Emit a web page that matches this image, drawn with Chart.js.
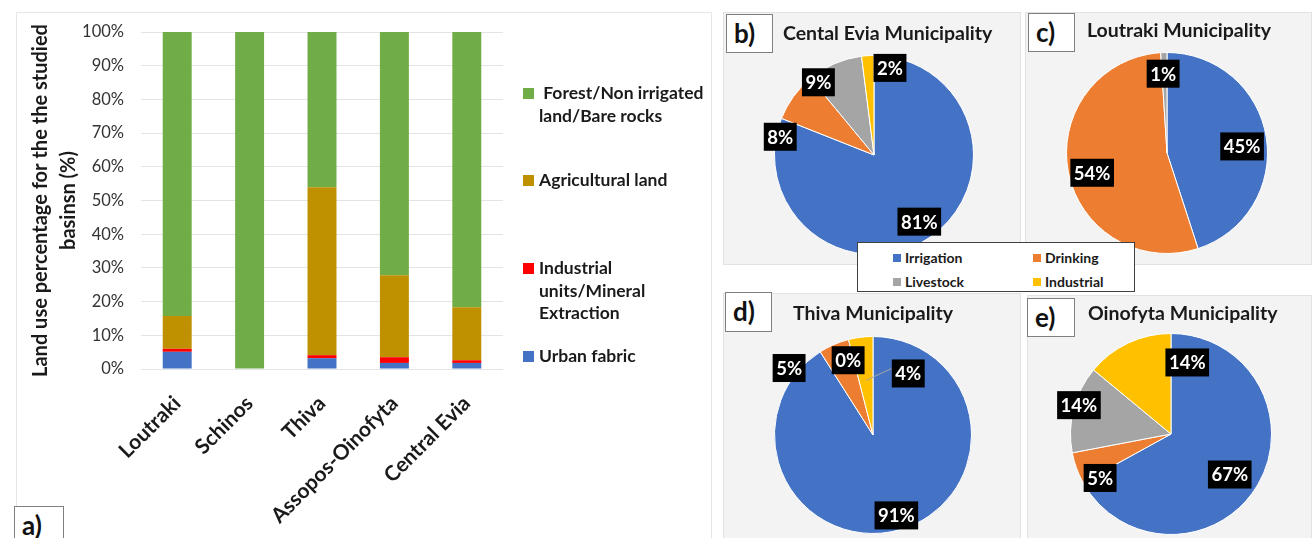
<!DOCTYPE html>
<html>
<head>
<meta charset="utf-8">
<script src="https://cdn.jsdelivr.net/npm/chart.js@4.4.1/dist/chart.umd.min.js"></script>
<style>
body { margin: 0; background: #fff; font-family: Lato, "Open Sans", sans-serif; }
#page { position: relative; width: 1314px; height: 538px; overflow: hidden; }
.panel { position: absolute; box-sizing: border-box; }
.pie-bg { background: #f3f3f3; border: 1px solid #e2e2e2; }
canvas { position: absolute; }
.tag { position: absolute; box-sizing: border-box; background: #fff; border: 1px solid #7f7f7f;
       font-weight: bold; font-size: 26px; line-height: 1; padding: 5px 0 0 7px; color: #111; z-index: 3; }
.title { position: absolute; font-weight: bold; font-size: 19.5px; color: #1a1a1a; white-space: nowrap; line-height: 22px; }
.lg { position: absolute; font-weight: bold; font-size: 17.5px; color: #1a1a1a; line-height: 22.5px; white-space: nowrap; }
.lg i { position: absolute; width: 11px; height: 11px; left: -16px; top: 6px; }
#pieLegend { position: absolute; left: 857px; top: 242px; width: 278px; height: 50px; box-sizing: border-box;
             background: #fff; border: 1px solid #404040; z-index: 4; }
.pl { position: absolute; font-weight: bold; font-size: 14px; color: #1a1a1a; line-height: 16px; white-space: nowrap; }
.pl i { position: absolute; width: 8px; height: 8px; left: -12px; top: 4px; }
</style>
</head>
<body>
<div id="page">
  <div class="panel" style="left:16px;top:12px;width:696px;height:540px;border:1px solid #e6e6e6;"></div>
  <canvas id="barChart" width="720" height="538" style="left:0;top:0;"></canvas>
  <div class="tag" style="left:14px;top:506px;width:50px;height:40px;">a)</div>

  <div class="lg" style="left:539px;top:82px;"><i style="background:#70AD47;top:6px;"></i>&nbsp;Forest/Non irrigated<br>land/Bare rocks</div>
  <div class="lg" style="left:539px;top:169px;"><i style="background:#BF9000;"></i>Agricultural land</div>
  <div class="lg" style="left:539px;top:257px;"><i style="background:#FF0000;"></i>Industrial<br>units/Mineral<br>Extraction</div>
  <div class="lg" style="left:539px;top:345px;"><i style="background:#4472C4;"></i>Urban fabric</div>

  <div class="panel pie-bg" style="left:723px;top:12px;width:298px;height:253px;"></div>
  <div class="panel pie-bg" style="left:1025px;top:12px;width:287px;height:253px;"></div>
  <div class="panel pie-bg" style="left:723px;top:293px;width:298px;height:250px;"></div>
  <div class="panel pie-bg" style="left:1027px;top:295px;width:285px;height:250px;"></div>

  <canvas id="pieB" width="260" height="260" style="left:744px;top:25px;"></canvas>
  <canvas id="pieC" width="262" height="262" style="left:1036px;top:22px;"></canvas>
  <canvas id="pieD" width="258" height="258" style="left:744px;top:306px;"></canvas>
  <canvas id="pieE" width="262" height="262" style="left:1040px;top:303px;"></canvas>

  <div class="tag" style="left:726px;top:14px;width:47px;height:39px;">b)</div>
  <div class="tag" style="left:1028px;top:13px;width:47px;height:39px;">c)</div>
  <div class="tag" style="left:725px;top:292px;width:47px;height:40px;">d)</div>
  <div class="tag" style="left:1027px;top:298px;width:48px;height:39px;">e)</div>

  <div class="title" style="left:783px;top:22px;">Cental Evia Municipality</div>
  <div class="title" style="left:1087px;top:19px;">Loutraki Municipality</div>
  <div class="title" style="left:793px;top:302px;">Thiva Municipality</div>
  <div class="title" style="left:1088px;top:302px;">Oinofyta Municipality</div>

  <div id="pieLegend">
    <div class="pl" style="left:47px;top:7px;"><i style="background:#4472C4;"></i>Irrigation</div>
    <div class="pl" style="left:187px;top:7px;"><i style="background:#ED7D31;"></i>Drinking</div>
    <div class="pl" style="left:47px;top:31px;"><i style="background:#A5A5A5;"></i>Livestock</div>
    <div class="pl" style="left:187px;top:31px;"><i style="background:#FFC000;"></i>Industrial</div>
  </div>
</div>

<script>
// land use per basin (%)
const basins = ['Loutraki', 'Schinos', 'Thiva', 'Assopos-Oinofyta', 'Central Evia'];
const urbanFabric = [5.1, 0, 3.2, 1.8, 1.8];
const industrialUnits = [0.9, 0, 0.9, 1.7, 0.8];
const agriculturalLand = [9.7, 0, 49.8, 24.3, 15.7];
const forestLand = [84.3, 100, 46.1, 72.2, 81.7];

// water use per municipality (%)
const waterUses = ['Irrigation', 'Drinking', 'Livestock', 'Industrial'];
const centralEviaUse = [81, 8, 9, 2];
const loutrakiUse = [45, 54, 1, null];
const thivaUse = [91, 5, 0, 4];
const oinofytaUse = [67, 5, 14, 14];

const pieColors = ['#4472C4', '#ED7D31', '#A5A5A5', '#FFC000'];

new Chart(document.getElementById('barChart'), {
    type: 'bar',
    data: {
        labels: basins,
        datasets: [
            { label: 'Urban fabric', data: urbanFabric, backgroundColor: '#4472C4' },
            { label: 'Industrial units/Mineral Extraction', data: industrialUnits, backgroundColor: '#FF0000' },
            { label: 'Agricultural land', data: agriculturalLand, backgroundColor: '#BF9000' },
            { label: 'Forest/Non irrigated land/Bare rocks', data: forestLand, backgroundColor: '#70AD47' }
        ]
    },
    options: {
        responsive: false,
        animation: false,
        layout: { padding: { left: 26, top: 32, right: 217, bottom: 0 } },
        datasets: { bar: { barPercentage: 0.4, categoryPercentage: 1 } },
        plugins: { legend: { display: false }, tooltip: { enabled: false } },
        scales: {
            x: {
                stacked: true,
                grid: { display: false },
                border: { display: false },
                ticks: { minRotation: 45, maxRotation: 45, padding: 14, color: '#1a1a1a',
                         font: { family: 'Lato', weight: 'bold', size: 21 } },
                afterFit: s => { s.height = 169; }
            },
            y: {
                stacked: true,
                min: 0,
                max: 100,
                grid: { color: '#e4e4e4', drawTicks: false },
                border: { display: false },
                ticks: { stepSize: 10, padding: 17, color: '#333', font: { family: 'Lato', size: 16.5 },
                         callback: v => v + '%' },
                title: { display: true, color: '#1a1a1a', padding: { top: 1, bottom: 0 },
                         text: ['Land use percentage for the the studied', 'basinsn (%)'],
                         font: { family: 'Lato', weight: 'bold', size: 20, lineHeight: 1.4 } },
                afterFit: s => { s.width = 141 - 26; }
            }
        }
    }
});

// black value boxes placed along each slice
const sliceLabels = {
    id: 'sliceLabels',
    afterDatasetsDraw(chart, args, opts) {
        const ctx = chart.ctx;
        const values = chart.data.datasets[0].data;
        ctx.save();
        ctx.font = 'bold 18.5px Lato';
        chart.getDatasetMeta(0).data.forEach((arc, i) => {
            if (values[i] === null) return;
            const a = (arc.startAngle + arc.endAngle) / 2 + opts.shift[i] * Math.PI / 180;
            const r = arc.outerRadius * opts.radius[i];
            const x = arc.x + Math.cos(a) * r;
            const y = arc.y + Math.sin(a) * r;
            const text = values[i] + '%';
            const w = ctx.measureText(text).width + 7;
            const h = 28;
            if (opts.leader && opts.leader[i]) {
                const ma = (arc.startAngle + arc.endAngle) / 2;
                ctx.strokeStyle = '#a6a6a6';
                ctx.lineWidth = 1;
                ctx.beginPath();
                ctx.moveTo(arc.x + Math.cos(ma) * arc.outerRadius * 0.56, arc.y + Math.sin(ma) * arc.outerRadius * 0.56);
                ctx.lineTo(x - w / 2, y - 5);
                ctx.stroke();
            }
            ctx.fillStyle = '#000';
            ctx.fillRect(x - w / 2, y - h / 2, w, h);
            ctx.fillStyle = '#fff';
            ctx.textAlign = 'center';
            ctx.textBaseline = 'middle';
            ctx.fillText(text, x, y + 1);
        });
        ctx.restore();
    }
};

function makePie(id, values, place) {
    new Chart(document.getElementById(id), {
        type: 'pie',
        data: {
            labels: waterUses,
            datasets: [{ data: values, backgroundColor: pieColors, borderColor: '#ffffff', borderWidth: 1 }]
        },
        options: {
            responsive: false,
            animation: false,
            layout: { padding: 30 },
            plugins: { legend: { display: false }, tooltip: { enabled: false }, sliceLabels: place }
        },
        plugins: [sliceLabels]
    });
}

makePie('pieB', centralEviaUse, { radius: [0.81, 0.96, 0.92, 0.89], shift: [0, -25, -14, 14] });
makePie('pieC', loutrakiUse, { radius: [0.75, 0.77, 0.79, 0], shift: [4, -4, -1, 0] });
makePie('pieD', thivaUse, { radius: [0.85, 1.09, 0.8, 0.72], shift: [0, -28, -4, 37], leader: [0, 0, 0, 1] });
makePie('pieE', oinofytaUse, { radius: [0.71, 0.83, 0.96, 0.73], shift: [4, -12, 3, 38] });
</script>
</body>
</html>
